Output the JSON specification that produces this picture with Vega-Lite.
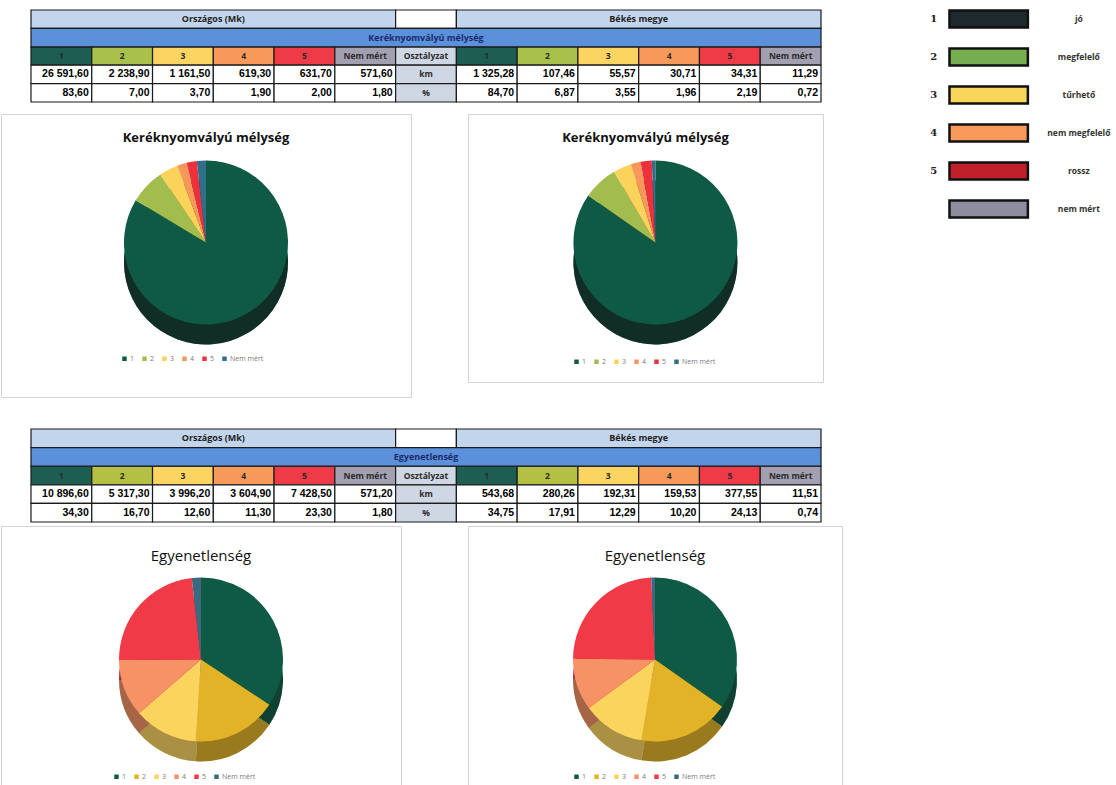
{
"$schema":"https://vega.github.io/schema/vega-lite/v6.json",
"padding":0,
"background":"white",
"config":{"view":{"stroke":null},"font":"Open Sans"},
"resolve":{"scale":{"x":"independent","y":"independent","color":"independent","theta":"independent"},"legend":{"color":"independent"}},
"spacing":81,
"hconcat":[
{"spacing":30,
 "resolve":{"scale":{"x":"independent","y":"independent","color":"independent","theta":"independent"},"legend":{"color":"independent"}},
 "vconcat":[
 {"spacing":10,
  "resolve":{"scale":{"x":"independent","y":"independent","color":"independent","theta":"independent"},"legend":{"color":"independent"}},
  "vconcat":[
  {"width":820,"height":102,
   "resolve":{"scale":{"x":"independent"}},
   "layer":[
    {"data":{"values":[
      {"row":"class","col":0,"t":"1","kind":"c1"},{"row":"class","col":1,"t":"2","kind":"c2"},{"row":"class","col":2,"t":"3","kind":"c3"},{"row":"class","col":3,"t":"4","kind":"c4"},{"row":"class","col":4,"t":"5","kind":"c5"},{"row":"class","col":5,"t":"Nem mért","kind":"nm"},{"row":"class","col":6,"t":"Osztályzat","kind":"osz"},{"row":"class","col":7,"t":"1","kind":"c1"},{"row":"class","col":8,"t":"2","kind":"c2"},{"row":"class","col":9,"t":"3","kind":"c3"},{"row":"class","col":10,"t":"4","kind":"c4"},{"row":"class","col":11,"t":"5","kind":"c5"},{"row":"class","col":12,"t":"Nem mért","kind":"nm"},
      {"row":"km","col":0,"t":"26 591,60","kind":"val"},{"row":"km","col":1,"t":"2 238,90","kind":"val"},{"row":"km","col":2,"t":"1 161,50","kind":"val"},{"row":"km","col":3,"t":"619,30","kind":"val"},{"row":"km","col":4,"t":"631,70","kind":"val"},{"row":"km","col":5,"t":"571,60","kind":"val"},{"row":"km","col":6,"t":"km","kind":"osz"},{"row":"km","col":7,"t":"1 325,28","kind":"val"},{"row":"km","col":8,"t":"107,46","kind":"val"},{"row":"km","col":9,"t":"55,57","kind":"val"},{"row":"km","col":10,"t":"30,71","kind":"val"},{"row":"km","col":11,"t":"34,31","kind":"val"},{"row":"km","col":12,"t":"11,29","kind":"val"},
      {"row":"pct","col":0,"t":"83,60","kind":"val"},{"row":"pct","col":1,"t":"7,00","kind":"val"},{"row":"pct","col":2,"t":"3,70","kind":"val"},{"row":"pct","col":3,"t":"1,90","kind":"val"},{"row":"pct","col":4,"t":"2,00","kind":"val"},{"row":"pct","col":5,"t":"1,80","kind":"val"},{"row":"pct","col":6,"t":"%","kind":"osz"},{"row":"pct","col":7,"t":"84,70","kind":"val"},{"row":"pct","col":8,"t":"6,87","kind":"val"},{"row":"pct","col":9,"t":"3,55","kind":"val"},{"row":"pct","col":10,"t":"1,96","kind":"val"},{"row":"pct","col":11,"t":"2,19","kind":"val"},{"row":"pct","col":12,"t":"0,72","kind":"val"}
     ]},
     "layer":[
      {"mark":{"type":"rect","stroke":"#1b1b1b","strokeWidth":1.2},
       "encoding":{"x":{"field":"col","type":"ordinal","scale":{"domain":[0,1,2,3,4,5,6,7,8,9,10,11,12],"paddingInner":0,"paddingOuter":0.2468,"align":1},"axis":null},
        "y":{"field":"row","type":"ordinal","scale":{"domain":["head","band","class","km","pct"],"paddingInner":0,"paddingOuter":0.2717,"align":1},"axis":null},
        "color":{"field":"kind","type":"nominal","scale":{"domain":["hdr","blank","band","c1","c2","c3","c4","c5","nm","osz","val"],"range":["#c3d5ec","#ffffff","#5b90da","#1d5d52","#a8c04c","#fbd462","#f8995c","#ee3b47","#a19fb0","#cfd7e4","#ffffff"]},"legend":null}}},
      {"transform":[{"filter":"(datum.row=='km'||datum.row=='pct')&&datum.col!=6"}],
       "mark":{"type":"text","align":"right","dx":-3,"fontSize":10.5,"fontWeight":"bold","color":"#000","font":"Liberation Sans Narrow, Liberation Sans, sans-serif"},
       "encoding":{"x":{"field":"col","type":"ordinal","bandPosition":1,"scale":{"domain":[0,1,2,3,4,5,6,7,8,9,10,11,12],"paddingInner":0,"paddingOuter":0.2468,"align":1},"axis":null},
        "y":{"field":"row","type":"ordinal","scale":{"domain":["head","band","class","km","pct"],"paddingInner":0,"paddingOuter":0.2717,"align":1},"axis":null},
        "text":{"field":"t"}}},
      {"transform":[{"filter":"!((datum.row=='km'||datum.row=='pct')&&datum.col!=6)"}],
       "mark":{"type":"text","align":"center","fontSize":8.5,"fontWeight":"bold","color":"#2a2a2a"},
       "encoding":{"x":{"field":"col","type":"ordinal","bandPosition":0.5,"scale":{"domain":[0,1,2,3,4,5,6,7,8,9,10,11,12],"paddingInner":0,"paddingOuter":0.2468,"align":1},"axis":null},
        "y":{"field":"row","type":"ordinal","scale":{"domain":["head","band","class","km","pct"],"paddingInner":0,"paddingOuter":0.2717,"align":1},"axis":null},
        "text":{"field":"t"}}}
     ]},
    {"data":{"values":[{"row":"head","from":0,"to":6,"kind":"hdr"},{"row":"head","from":6,"to":7,"kind":"blank"},{"row":"head","from":7,"to":13,"kind":"hdr"},{"row":"band","from":0,"to":13,"kind":"band"}]},
     "mark":{"type":"rect","stroke":"#1b1b1b","strokeWidth":1.2},
     "encoding":{"x":{"field":"from","type":"quantitative","scale":{"domain":[-0.4937,13],"nice":false,"zero":false},"axis":null},"x2":{"field":"to"},
      "y":{"field":"row","type":"ordinal","scale":{"domain":["head","band","class","km","pct"],"paddingInner":0,"paddingOuter":0.2717,"align":1},"axis":null},
      "color":{"field":"kind","type":"nominal","scale":{"domain":["hdr","blank","band","c1","c2","c3","c4","c5","nm","osz","val"],"range":["#c3d5ec","#ffffff","#5b90da","#1d5d52","#a8c04c","#fbd462","#f8995c","#ee3b47","#a19fb0","#cfd7e4","#ffffff"]},"legend":null}}},
    {"data":{"values":[{"row":"head","t":"Országos (Mk)"}]},
     "mark":{"type":"text","fontSize":9,"fontWeight":"bold","color":"#1e1e1e"},
     "encoding":{"x":{"datum":3,"type":"quantitative","scale":{"domain":[-0.4937,13],"nice":false,"zero":false},"axis":null},"y":{"field":"row","type":"ordinal","scale":{"domain":["head","band","class","km","pct"],"paddingInner":0,"paddingOuter":0.2717,"align":1},"axis":null},"text":{"field":"t"}}},
    {"data":{"values":[{"row":"head","t":"Békés megye"}]},
     "mark":{"type":"text","fontSize":9,"fontWeight":"bold","color":"#1e1e1e"},
     "encoding":{"x":{"datum":10,"type":"quantitative","scale":{"domain":[-0.4937,13],"nice":false,"zero":false},"axis":null},"y":{"field":"row","type":"ordinal","scale":{"domain":["head","band","class","km","pct"],"paddingInner":0,"paddingOuter":0.2717,"align":1},"axis":null},"text":{"field":"t"}}},
    {"data":{"values":[{"row":"band","t":"Keréknyomvályú mélység"}]},
     "mark":{"type":"text","fontSize":9,"fontWeight":"bold","color":"#1b2a6b"},
     "encoding":{"x":{"datum":6.5,"type":"quantitative","scale":{"domain":[-0.4937,13],"nice":false,"zero":false},"axis":null},"y":{"field":"row","type":"ordinal","scale":{"domain":["head","band","class","km","pct"],"paddingInner":0,"paddingOuter":0.2717,"align":1},"axis":null},"text":{"field":"t"}}}
   ]},
  {"spacing":55,
   "resolve":{"scale":{"x":"independent","y":"independent","color":"independent","theta":"independent"},"legend":{"color":"independent"}},
   "hconcat":[
   {"width":410,"height":283,
    "view":{"stroke":"#d3d3d3","strokeWidth":1},
    "title":{"text":"Keréknyomvályú mélység","offset":-31,"fontSize":13,"fontWeight":"bold","color":"#111"},
    "data":{"values":[{"o":"1","v":83.6},{"o":"2","v":7.0},{"o":"3","v":3.7},{"o":"4","v":1.9},{"o":"5","v":2.0},{"o":"Nem mért","v":1.8}]},
    "encoding":{"theta":{"field":"v","type":"quantitative","stack":true}},
    "layer":[
     {"mark":{"type":"arc","outerRadius":82},
      "encoding":{"y":{"datum":0.4753,"type":"quantitative","scale":{"domain":[0,1],"nice":false,"zero":false},"axis":null},
       "color":{"field":"o","type":"nominal","scale":{"domain":["1","2","3","4","5","Nem mért"],"range":["#0f5a44","#a2bd4d","#fbd35b","#f7985b","#ee303d","#2f6f8a"]}}}},
     {"mark":{"type":"arc","outerRadius":82,"color":"#111","opacity":0.6},
      "encoding":{"y":{"datum":0.4753,"type":"quantitative","scale":{"domain":[0,1],"nice":false,"zero":false},"axis":null}}},
     {"mark":{"type":"arc","outerRadius":82},
      "encoding":{"y":{"datum":0.5459,"type":"quantitative","scale":{"domain":[0,1],"nice":false,"zero":false},"axis":null},
       "color":{"field":"o","type":"nominal","scale":{"domain":["1","2","3","4","5","Nem mért"],"range":["#0f5a44","#a2bd4d","#fbd35b","#f7985b","#ee303d","#2f6f8a"]},
        "legend":{"orient":"none","legendX":120,"legendY":241,"direction":"horizontal","columns":6,"title":null,"symbolType":"square","symbolSize":20,"labelFontSize":7,"labelColor":"#7a7a7a","columnPadding":6,"labelOffset":2}}}}
    ]},
   {"width":355,"height":268,
    "view":{"stroke":"#d3d3d3","strokeWidth":1},
    "title":{"text":"Keréknyomvályú mélység","offset":-31,"fontSize":13,"fontWeight":"bold","color":"#111"},
    "data":{"values":[{"o":"1","v":84.70},{"o":"2","v":6.87},{"o":"3","v":3.55},{"o":"4","v":1.96},{"o":"5","v":2.19},{"o":"Nem mért","v":0.72}]},
    "encoding":{"theta":{"field":"v","type":"quantitative","stack":true},
     "x":{"datum":0.528,"type":"quantitative","scale":{"domain":[0,1],"nice":false,"zero":false},"axis":null}},
    "layer":[
     {"mark":{"type":"arc","outerRadius":82},
      "encoding":{"y":{"datum":0.4459,"type":"quantitative","scale":{"domain":[0,1],"nice":false,"zero":false},"axis":null},
       "color":{"field":"o","type":"nominal","scale":{"domain":["1","2","3","4","5","Nem mért"],"range":["#0f5a44","#a2bd4d","#fbd35b","#f7985b","#ee303d","#2f6f8a"]}}}},
     {"mark":{"type":"arc","outerRadius":82,"color":"#111","opacity":0.6},
      "encoding":{"y":{"datum":0.4459,"type":"quantitative","scale":{"domain":[0,1],"nice":false,"zero":false},"axis":null}}},
     {"mark":{"type":"arc","outerRadius":82},
      "encoding":{"y":{"datum":0.5205,"type":"quantitative","scale":{"domain":[0,1],"nice":false,"zero":false},"axis":null},
       "color":{"field":"o","type":"nominal","scale":{"domain":["1","2","3","4","5","Nem mért"],"range":["#0f5a44","#a2bd4d","#fbd35b","#f7985b","#ee303d","#2f6f8a"]},
        "legend":{"orient":"none","legendX":105,"legendY":244,"direction":"horizontal","columns":6,"title":null,"symbolType":"square","symbolSize":20,"labelFontSize":7,"labelColor":"#7a7a7a","columnPadding":6,"labelOffset":2}}}}
    ]}
  ]}
 ]},
 {"spacing":2,
  "resolve":{"scale":{"x":"independent","y":"independent","color":"independent","theta":"independent"},"legend":{"color":"independent"}},
  "vconcat":[
  {"width":820,"height":93,
   "resolve":{"scale":{"x":"independent"}},
   "layer":[
    {"data":{"values":[
      {"row":"class","col":0,"t":"1","kind":"c1"},{"row":"class","col":1,"t":"2","kind":"c2"},{"row":"class","col":2,"t":"3","kind":"c3"},{"row":"class","col":3,"t":"4","kind":"c4"},{"row":"class","col":4,"t":"5","kind":"c5"},{"row":"class","col":5,"t":"Nem mért","kind":"nm"},{"row":"class","col":6,"t":"Osztályzat","kind":"osz"},{"row":"class","col":7,"t":"1","kind":"c1"},{"row":"class","col":8,"t":"2","kind":"c2"},{"row":"class","col":9,"t":"3","kind":"c3"},{"row":"class","col":10,"t":"4","kind":"c4"},{"row":"class","col":11,"t":"5","kind":"c5"},{"row":"class","col":12,"t":"Nem mért","kind":"nm"},
      {"row":"km","col":0,"t":"10 896,60","kind":"val"},{"row":"km","col":1,"t":"5 317,30","kind":"val"},{"row":"km","col":2,"t":"3 996,20","kind":"val"},{"row":"km","col":3,"t":"3 604,90","kind":"val"},{"row":"km","col":4,"t":"7 428,50","kind":"val"},{"row":"km","col":5,"t":"571,20","kind":"val"},{"row":"km","col":6,"t":"km","kind":"osz"},{"row":"km","col":7,"t":"543,68","kind":"val"},{"row":"km","col":8,"t":"280,26","kind":"val"},{"row":"km","col":9,"t":"192,31","kind":"val"},{"row":"km","col":10,"t":"159,53","kind":"val"},{"row":"km","col":11,"t":"377,55","kind":"val"},{"row":"km","col":12,"t":"11,51","kind":"val"},
      {"row":"pct","col":0,"t":"34,30","kind":"val"},{"row":"pct","col":1,"t":"16,70","kind":"val"},{"row":"pct","col":2,"t":"12,60","kind":"val"},{"row":"pct","col":3,"t":"11,30","kind":"val"},{"row":"pct","col":4,"t":"23,30","kind":"val"},{"row":"pct","col":5,"t":"1,80","kind":"val"},{"row":"pct","col":6,"t":"%","kind":"osz"},{"row":"pct","col":7,"t":"34,75","kind":"val"},{"row":"pct","col":8,"t":"17,91","kind":"val"},{"row":"pct","col":9,"t":"12,29","kind":"val"},{"row":"pct","col":10,"t":"10,20","kind":"val"},{"row":"pct","col":11,"t":"24,13","kind":"val"},{"row":"pct","col":12,"t":"0,74","kind":"val"}
     ]},
     "layer":[
      {"mark":{"type":"rect","stroke":"#1b1b1b","strokeWidth":1.2},
       "encoding":{"x":{"field":"col","type":"ordinal","scale":{"domain":[0,1,2,3,4,5,6,7,8,9,10,11,12],"paddingInner":0,"paddingOuter":0.2468,"align":1},"axis":null},
        "y":{"field":"row","type":"ordinal","scale":{"domain":["head","band","class","km","pct"],"paddingInner":0,"paddingOuter":0},"axis":null},
        "color":{"field":"kind","type":"nominal","scale":{"domain":["hdr","blank","band","c1","c2","c3","c4","c5","nm","osz","val"],"range":["#c3d5ec","#ffffff","#5b90da","#1d5d52","#b3c044","#fbd462","#f8995c","#ee3b47","#a19fb0","#cfd7e4","#ffffff"]},"legend":null}}},
      {"transform":[{"filter":"(datum.row=='km'||datum.row=='pct')&&datum.col!=6"}],
       "mark":{"type":"text","align":"right","dx":-3,"fontSize":10.5,"fontWeight":"bold","color":"#000","font":"Liberation Sans Narrow, Liberation Sans, sans-serif"},
       "encoding":{"x":{"field":"col","type":"ordinal","bandPosition":1,"scale":{"domain":[0,1,2,3,4,5,6,7,8,9,10,11,12],"paddingInner":0,"paddingOuter":0.2468,"align":1},"axis":null},
        "y":{"field":"row","type":"ordinal","scale":{"domain":["head","band","class","km","pct"],"paddingInner":0,"paddingOuter":0},"axis":null},
        "text":{"field":"t"}}},
      {"transform":[{"filter":"!((datum.row=='km'||datum.row=='pct')&&datum.col!=6)"}],
       "mark":{"type":"text","align":"center","fontSize":8.5,"fontWeight":"bold","color":"#2a2a2a"},
       "encoding":{"x":{"field":"col","type":"ordinal","bandPosition":0.5,"scale":{"domain":[0,1,2,3,4,5,6,7,8,9,10,11,12],"paddingInner":0,"paddingOuter":0.2468,"align":1},"axis":null},
        "y":{"field":"row","type":"ordinal","scale":{"domain":["head","band","class","km","pct"],"paddingInner":0,"paddingOuter":0},"axis":null},
        "text":{"field":"t"}}}
     ]},
    {"data":{"values":[{"row":"head","from":0,"to":6,"kind":"hdr"},{"row":"head","from":6,"to":7,"kind":"blank"},{"row":"head","from":7,"to":13,"kind":"hdr"},{"row":"band","from":0,"to":13,"kind":"band"}]},
     "mark":{"type":"rect","stroke":"#1b1b1b","strokeWidth":1.2},
     "encoding":{"x":{"field":"from","type":"quantitative","scale":{"domain":[-0.4937,13],"nice":false,"zero":false},"axis":null},"x2":{"field":"to"},
      "y":{"field":"row","type":"ordinal","scale":{"domain":["head","band","class","km","pct"],"paddingInner":0,"paddingOuter":0},"axis":null},
      "color":{"field":"kind","type":"nominal","scale":{"domain":["hdr","blank","band","c1","c2","c3","c4","c5","nm","osz","val"],"range":["#c3d5ec","#ffffff","#5b90da","#1d5d52","#b3c044","#fbd462","#f8995c","#ee3b47","#a19fb0","#cfd7e4","#ffffff"]},"legend":null}}},
    {"data":{"values":[{"row":"head","t":"Országos (Mk)"}]},
     "mark":{"type":"text","fontSize":9,"fontWeight":"bold","color":"#1e1e1e"},
     "encoding":{"x":{"datum":3,"type":"quantitative","scale":{"domain":[-0.4937,13],"nice":false,"zero":false},"axis":null},"y":{"field":"row","type":"ordinal","scale":{"domain":["head","band","class","km","pct"],"paddingInner":0,"paddingOuter":0},"axis":null},"text":{"field":"t"}}},
    {"data":{"values":[{"row":"head","t":"Békés megye"}]},
     "mark":{"type":"text","fontSize":9,"fontWeight":"bold","color":"#1e1e1e"},
     "encoding":{"x":{"datum":10,"type":"quantitative","scale":{"domain":[-0.4937,13],"nice":false,"zero":false},"axis":null},"y":{"field":"row","type":"ordinal","scale":{"domain":["head","band","class","km","pct"],"paddingInner":0,"paddingOuter":0},"axis":null},"text":{"field":"t"}}},
    {"data":{"values":[{"row":"band","t":"Egyenetlenség"}]},
     "mark":{"type":"text","fontSize":9,"fontWeight":"bold","color":"#1b2a6b"},
     "encoding":{"x":{"datum":6.5,"type":"quantitative","scale":{"domain":[-0.4937,13],"nice":false,"zero":false},"axis":null},"y":{"field":"row","type":"ordinal","scale":{"domain":["head","band","class","km","pct"],"paddingInner":0,"paddingOuter":0},"axis":null},"text":{"field":"t"}}}
   ]},
  {"spacing":65,
   "resolve":{"scale":{"x":"independent","y":"independent","color":"independent","theta":"independent"},"legend":{"color":"independent"}},
   "hconcat":[
   {"width":400,"height":265,
    "view":{"stroke":"#d3d3d3","strokeWidth":1},
    "title":{"text":"Egyenetlenség","offset":-38,"fontSize":15,"fontWeight":"normal","color":"#111"},
    "data":{"values":[{"o":"1","v":34.3},{"o":"2","v":16.7},{"o":"3","v":12.6},{"o":"4","v":11.3},{"o":"5","v":23.3},{"o":"Nem mért","v":1.8}]},
    "encoding":{"theta":{"field":"v","type":"quantitative","stack":true}},
    "layer":[
     {"mark":{"type":"arc","outerRadius":82},
      "encoding":{"y":{"datum":0.4208,"type":"quantitative","scale":{"domain":[0,1],"nice":false,"zero":false},"axis":null},
       "color":{"field":"o","type":"nominal","scale":{"domain":["1","2","3","4","5","Nem mért"],"range":["#0f5a44","#e2b327","#fbd45e","#f79266","#f03a48","#3b6a80"]}}}},
     {"mark":{"type":"arc","outerRadius":82,"color":"#111","opacity":0.35},
      "encoding":{"y":{"datum":0.4208,"type":"quantitative","scale":{"domain":[0,1],"nice":false,"zero":false},"axis":null}}},
     {"mark":{"type":"arc","outerRadius":82},
      "encoding":{"y":{"datum":0.4962,"type":"quantitative","scale":{"domain":[0,1],"nice":false,"zero":false},"axis":null},
       "color":{"field":"o","type":"nominal","scale":{"domain":["1","2","3","4","5","Nem mért"],"range":["#0f5a44","#e2b327","#fbd45e","#f79266","#f03a48","#3b6a80"]},
        "legend":{"orient":"none","legendX":112,"legendY":247,"direction":"horizontal","columns":6,"title":null,"symbolType":"square","symbolSize":20,"labelFontSize":7,"labelColor":"#7a7a7a","columnPadding":6,"labelOffset":2}}}}
    ]},
   {"width":374,"height":265,
    "view":{"stroke":"#d3d3d3","strokeWidth":1},
    "title":{"text":"Egyenetlenség","offset":-38,"fontSize":15,"fontWeight":"normal","color":"#111"},
    "data":{"values":[{"o":"1","v":34.75},{"o":"2","v":17.91},{"o":"3","v":12.29},{"o":"4","v":10.20},{"o":"5","v":24.13},{"o":"Nem mért","v":0.74}]},
    "encoding":{"theta":{"field":"v","type":"quantitative","stack":true}},
    "layer":[
     {"mark":{"type":"arc","outerRadius":82},
      "encoding":{"y":{"datum":0.4208,"type":"quantitative","scale":{"domain":[0,1],"nice":false,"zero":false},"axis":null},
       "color":{"field":"o","type":"nominal","scale":{"domain":["1","2","3","4","5","Nem mért"],"range":["#0f5a44","#e2b327","#fbd45e","#f79266","#f03a48","#3b6a80"]}}}},
     {"mark":{"type":"arc","outerRadius":82,"color":"#111","opacity":0.35},
      "encoding":{"y":{"datum":0.4208,"type":"quantitative","scale":{"domain":[0,1],"nice":false,"zero":false},"axis":null}}},
     {"mark":{"type":"arc","outerRadius":82},
      "encoding":{"y":{"datum":0.4962,"type":"quantitative","scale":{"domain":[0,1],"nice":false,"zero":false},"axis":null},
       "color":{"field":"o","type":"nominal","scale":{"domain":["1","2","3","4","5","Nem mért"],"range":["#0f5a44","#e2b327","#fbd45e","#f79266","#f03a48","#3b6a80"]},
        "legend":{"orient":"none","legendX":105,"legendY":247,"direction":"horizontal","columns":6,"title":null,"symbolType":"square","symbolSize":20,"labelFontSize":7,"labelColor":"#7a7a7a","columnPadding":6,"labelOffset":2}}}}
    ]}
  ]}
 ]}
]},
{"width":196,"height":228,
 "data":{"values":[{"n":"1","lab":"jó","lk":"1"},{"n":"2","lab":"megfelelő","lk":"2"},{"n":"3","lab":"tűrhető","lk":"3"},{"n":"4","lab":"nem megfelelő","lk":"4"},{"n":"5","lab":"rossz","lk":"5"},{"n":"","lab":"nem mért","lk":"nm"}]},
 "encoding":{"y":{"field":"lk","type":"ordinal","scale":{"domain":["1","2","3","4","5","nm"],"paddingInner":0.55,"paddingOuter":0.275},"axis":null}},
 "layer":[
  {"mark":{"type":"text","fontWeight":"bold","fontSize":10,"font":"DejaVu Serif","color":"#222"},
   "encoding":{"x":{"datum":0.5,"type":"quantitative","scale":{"domain":[0,10],"nice":false,"zero":false},"axis":null},"text":{"field":"n"}}},
  {"mark":{"type":"rect","stroke":"#111","strokeWidth":2.5},
   "encoding":{"x":{"datum":1.3,"type":"quantitative","scale":{"domain":[0,10],"nice":false,"zero":false},"axis":null},"x2":{"datum":5.3},
    "color":{"field":"lk","type":"nominal","scale":{"domain":["1","2","3","4","5","nm"],"range":["#1e2a30","#76ad4e","#f8d65a","#f79a5c","#c0202a","#8e8da0"]},"legend":null}}},
  {"mark":{"type":"text","fontSize":8.5,"fontWeight":"bold","color":"#333"},
   "encoding":{"x":{"datum":7.9,"type":"quantitative","scale":{"domain":[0,10],"nice":false,"zero":false},"axis":null},"text":{"field":"lab"}}}
 ]}
]
}
